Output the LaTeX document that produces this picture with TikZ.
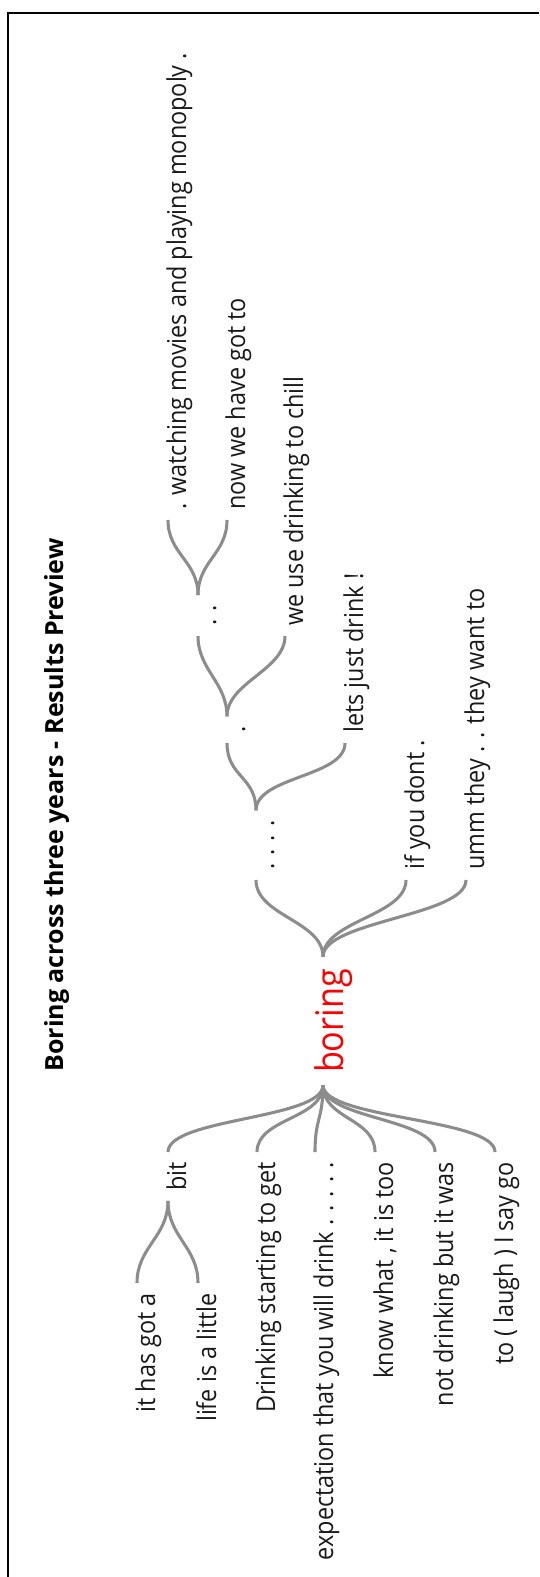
\documentclass[tikz,border=0pt]{standalone}
\usepackage{fontspec}
\setmainfont{Open Sans}
\usepackage{tikz}

\begin{document}
\begin{tikzpicture}[
  x=0.75pt, y=-0.75pt,
  heading/.style={rotate=90, anchor=base, inner sep=0pt,
                  font=\bfseries\fontsize{18.75}{22}\selectfont},
  word/.style={rotate=90, xscale=0.9, inner xsep=8.3pt, inner ysep=0pt,
               text height=27pt, text depth=0pt, text=black!90,
               font=\fontsize{19.5}{23}\selectfont},
  rword/.style={word, anchor=west},
  lword/.style={word, anchor=east},
  hub/.style={rotate=90, xscale=0.9, inner xsep=10pt, inner ysep=0pt,
              text height=30pt, text depth=0pt, text=red,
              font=\fontsize{28.5}{34}\selectfont},
  branch/.style={draw=black!45, line width=2.3pt}
]
\useasboundingbox (0,0) rectangle (539,1577);
%% frame (left and top edges only)
\draw[line width=1.5pt] (8,1577) -- (8,13) -- (539,13);
%% title
\node[heading] (title) at (63,805) {Boring across three years - Results Preview};
%% root word
\node[hub] (boring) at (323,1021) {boring};
%% right context (reads upwards)
\node[rword] (r_dots)   at (256,880) {. . . .};
\node[rword] (r_dont)   at (406,880) {if you dont .};
\node[rword] (r_umm)    at (466,880) {umm they . . they want to};
\node[rword] (r_dot)    at (227,743) {.};
\node[rword] (r_lets)   at (345,743) {lets just drink !};
\node[rword] (r_ddot)   at (198,636) {. .};
\node[rword] (r_chill)  at (285,636) {we use drinking to chill};
\node[rword] (r_movies) at (168,520) {. watching movies and playing monopoly .};
\node[rword] (r_now)    at (227,520) {now we have got to};
%% left context (ends at the branch)
\node[lword] (l_bit)    at (168,1152) {bit};
\node[lword] (l_get)    at (257,1152) {Drinking starting to get};
\node[lword] (l_expect) at (315,1152) {expectation that you will drink . . . . .};
\node[lword] (l_know)   at (375,1152) {know what , it is too};
\node[lword] (l_was)    at (435,1152) {not drinking but it was};
\node[lword] (l_go)     at (495,1152) {to ( laugh ) I say go};
\node[lword] (l_got)    at (137,1283) {it has got a};
\node[lword] (l_life)   at (198,1283) {life is a little};
%% branches to the right context
\draw[branch] (boring.east) .. controls +(0,-36) and +(0,36) .. (r_dots.west);
\draw[branch] (boring.east) .. controls +(0,-36) and +(0,36) .. (r_dont.west);
\draw[branch] (boring.east) .. controls +(0,-36) and +(0,36) .. (r_umm.west);
\draw[branch] (r_dots.east) .. controls +(0,-34) and +(0,34) .. (r_dot.west);
\draw[branch] (r_dots.east) .. controls +(0,-34) and +(0,34) .. (r_lets.west);
\draw[branch] (r_dot.east)  .. controls +(0,-34) and +(0,34) .. (r_ddot.west);
\draw[branch] (r_dot.east)  .. controls +(0,-34) and +(0,34) .. (r_chill.west);
\draw[branch] (r_ddot.east) .. controls +(0,-34) and +(0,34) .. (r_movies.west);
\draw[branch] (r_ddot.east) .. controls +(0,-34) and +(0,34) .. (r_now.west);
%% branches to the left context
\draw[branch] (boring.west) .. controls +(0,34) and +(0,-34) .. (l_bit.east);
\draw[branch] (boring.west) .. controls +(0,34) and +(0,-34) .. (l_get.east);
\draw[branch] (boring.west) .. controls +(0,34) and +(0,-34) .. (l_expect.east);
\draw[branch] (boring.west) .. controls +(0,34) and +(0,-34) .. (l_know.east);
\draw[branch] (boring.west) .. controls +(0,34) and +(0,-34) .. (l_was.east);
\draw[branch] (boring.west) .. controls +(0,34) and +(0,-34) .. (l_go.east);
\draw[branch] (l_bit.west)  .. controls +(0,36) and +(0,-36) .. (l_got.east);
\draw[branch] (l_bit.west)  .. controls +(0,36) and +(0,-36) .. (l_life.east);
\end{tikzpicture}
\end{document}
